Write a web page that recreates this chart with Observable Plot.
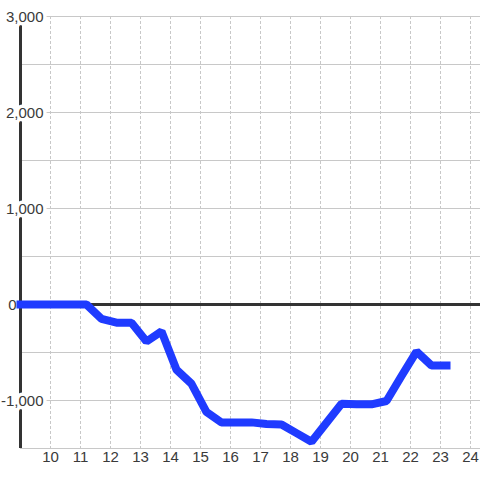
<!DOCTYPE html>
<html>
<head>
<meta charset="utf-8">
<script src="https://cdn.jsdelivr.net/npm/d3@7"></script>
<script src="https://cdn.jsdelivr.net/npm/@observablehq/plot@0.6"></script>
<style>
  html, body { margin: 0; padding: 0; background: #ffffff; }
  #chart svg { display: block; }
</style>
</head>
<body>
<div id="chart"></div>
<script>
// Data
const times  = [9.0, 9.7, 10.2, 10.7, 11.2, 11.7, 12.2, 12.7, 13.2, 13.7, 14.2, 14.7, 15.2, 15.7, 16.2, 16.7, 17.2, 17.7, 18.2, 18.7, 19.2, 19.7, 20.2, 20.7, 21.2, 21.7, 22.2, 22.7, 23.2];
const values = [0, 0, 0, 0, 0, -150, -190, -190, -385, -280, -680, -826, -1120, -1230, -1230, -1228, -1245, -1250, -1340, -1430, -1232, -1035, -1040, -1040, -1005, -745, -490, -635, -635];
const xTicks = [10, 11, 12, 13, 14, 15, 16, 17, 18, 19, 20, 21, 22, 23, 24];
const yGrid  = [-1500, -1000, -500, 0, 500, 1000, 1500, 2000, 2500, 3000];
const yLabels = [-1000, 1000, 2000, 3000];
const yZeroLabel = [0];

const data = times.map((t, i) => ({t, v: values[i]}));
const fmt = d => d3.format(",")(d).replace("\u2212", "-");

const font = "'Liberation Sans', Arial, sans-serif";
const textColor = "#3a3a3a";

const chart = Plot.plot({
  width: 480,
  height: 480,
  marginLeft: 20,
  marginRight: 0,
  marginTop: 16,
  marginBottom: 32,
  style: {fontFamily: font, fontSize: "15px", background: "#ffffff", color: textColor},
  x: {domain: [9, 24.333], axis: null},
  y: {domain: [-1500, 3000], axis: null},
  marks: [
    Plot.ruleY(yGrid, {stroke: "#c8c8c8", strokeWidth: 1}),
    Plot.ruleX(xTicks, {stroke: "#c8c8c8", strokeWidth: 1, strokeDasharray: "3,2"}),
    Plot.ruleX([9], {stroke: "#333", strokeWidth: 3}),
    Plot.ruleY([0], {stroke: "#333", strokeWidth: 3}),
    Plot.text(yLabels, {
      y: d => d, text: fmt, frameAnchor: "left", textAnchor: "end", dx: 23, dy: 1,
      fill: textColor, stroke: "#ffffff", strokeWidth: 7, paintOrder: "stroke",
      fontSize: 15, fontFamily: font
    }),
    Plot.text(yZeroLabel, {
      y: d => d, text: fmt, frameAnchor: "left", textAnchor: "end", dx: -4, dy: 1,
      fill: textColor, fontSize: 15, fontFamily: font
    }),
    Plot.text(xTicks, {
      x: d => d, text: d => String(d), frameAnchor: "bottom", dy: 13,
      fill: textColor, fontSize: 15, fontFamily: font
    }),
    Plot.line(data, {
      x: "t", y: "v", stroke: "#1f3bff", strokeWidth: 8,
      strokeLinejoin: "miter", strokeLinecap: "square"
    })
  ]
});
document.getElementById("chart").append(chart);
</script>
</body>
</html>
